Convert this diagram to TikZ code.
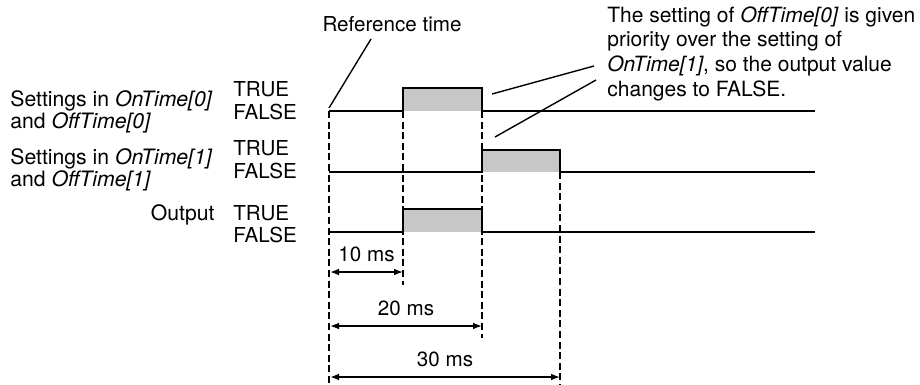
\documentclass[tikz,border=0pt]{standalone}
\usepackage{fontspec}
\setmainfont{TeX Gyre Heros}
\usetikzlibrary{arrows.meta,positioning}

\begin{document}
\begin{tikzpicture}[x=0.5pt,y=-0.5pt,>={Latex[length=4.5pt,width=3.4pt]},
    font=\fontsize{10.3}{11}\selectfont,
    sig/.style={line width=0.8pt},
    pulse/.style={fill=black!22},
    guide/.style={line width=0.65pt,dash pattern=on 3.5pt off 1.8pt},
    lead/.style={line width=0.7pt},
    rowname/.style={inner sep=0pt,align=left,anchor=north west,
        font=\fontsize{10.6}{11}\selectfont},
    lvl/.style={inner sep=0pt,anchor=west}]
    \useasboundingbox (0,0) rectangle (920,385);
    % time marks
    \coordinate (t0) at (329,111);
    \coordinate (t1) at (403,111);
    \coordinate (t2) at (482,111);
    \coordinate (t3) at (560,172);
    % grey pulses
    \fill[pulse] (403,88) rectangle (482,111);
    \fill[pulse] (482,150) rectangle (560,172);
    \fill[pulse] (403,209) rectangle (482,232);
    % dashed guides
    \draw[guide] (t0) -- (329,385);
    \draw[guide] (t1) -- (403,285);
    \draw[guide] (t2) -- (482,338);
    \draw[guide] (t3) -- (560,385);
    % signals
    \draw[sig] (329,111) -- (403,111) -- (403,88) -- (482,88) -- (482,111) -- (815,111);
    \draw[sig] (329,172) -- (482,172) -- (482,150) -- (560,150) -- (560,172) -- (815,172);
    \draw[sig] (329,232) -- (403,232) -- (403,209) -- (482,209) -- (482,232) -- (815,232);
    % row names
    \node[rowname] (row0) at (10,90)
        {Settings in \textit{OnTime[0]}\\and \textit{OffTime[0]}};
    \node[rowname] (row1) at (10,148)
        {Settings in \textit{OnTime[1]}\\and \textit{OffTime[1]}};
    \node[inner sep=0pt,anchor=base east,font=\fontsize{10.6}{11}\selectfont]
        (rowout) at (215,220) {Output};
    % levels
    \node[lvl] (true0) at (233,89) {TRUE};
    \node[lvl] (false0) at (233,112) {FALSE};
    \node[lvl] (true1) at (233,148) {TRUE};
    \node[lvl] (false1) at (233,171) {FALSE};
    \node[lvl] (true2) at (233,213) {TRUE};
    \node[lvl] (false2) at (233,235) {FALSE};
    % reference time
    \node[inner sep=0pt] (reft) at (392,24) {Reference time};
    \coordinate (reftip) at (371,39);
    \draw[lead] (329,108) -- (reftip);
    % note on priority
    \node[inner sep=0pt,align=left,anchor=north west,
        font=\fontsize{10.5}{12.4}\selectfont] (note) at (607,6)
        {The setting of \textit{OffTime[0]} is given\\priority over the setting of\\%
         \textit{OnTime[1]}, so the output value\\changes to FALSE.};
    \coordinate (noteA) at (594,66);
    \coordinate (noteB) at (596,80);
    \coordinate (fallA) at (492,94);
    \coordinate (riseB) at (495,137);
    \draw[lead] (noteA) -- (fallA);
    \draw[lead] (noteB) -- (riseB);
    % durations
    \draw[<->,sig] (330,272) -- (403,272) node[midway,above=4.5pt,inner sep=0pt] (d10) {10 ms};
    \draw[<->,sig] (330,326) -- (482,326) node[midway,above=4.5pt,inner sep=0pt] (d20) {20 ms};
    \draw[<->,sig] (330,377) -- (560,377) node[midway,above=4.5pt,inner sep=0pt] (d30) {30 ms};
\end{tikzpicture}
\end{document}
